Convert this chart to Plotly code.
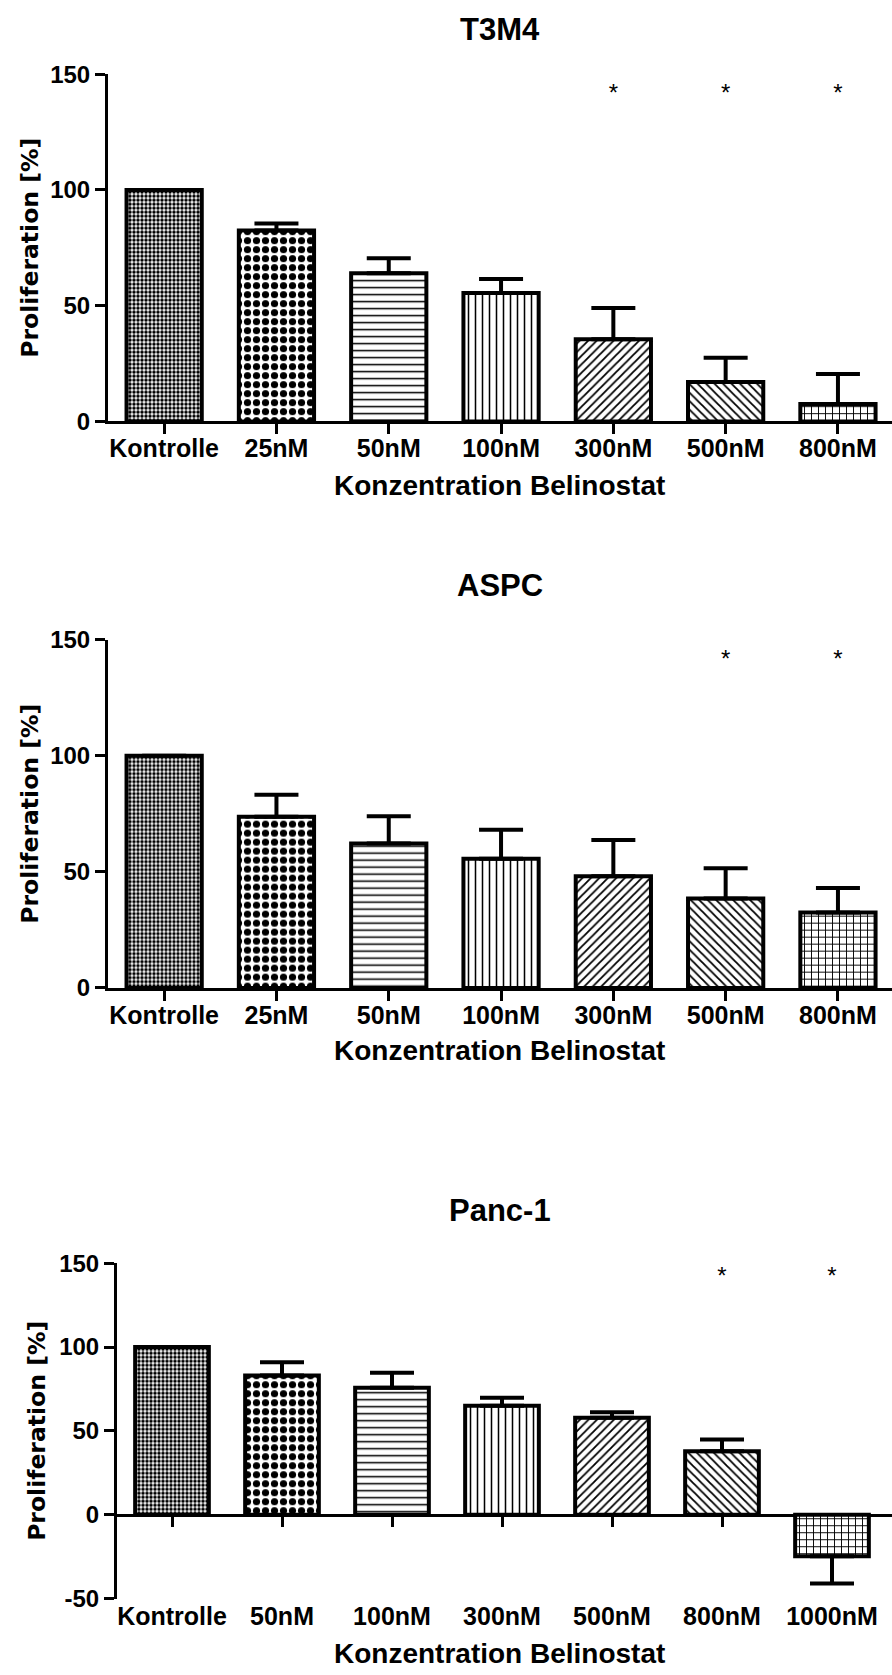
import plotly.graph_objects as go

# ---------------- data ----------------
t3m4_categories = ["Kontrolle", "25nM", "50nM", "100nM", "300nM", "500nM", "800nM"]
t3m4_values = [100, 82.5, 64, 55.5, 35.5, 17, 7.5]
t3m4_errors = [0, 3, 6.5, 6, 13.5, 10.5, 13]
t3m4_significant = [False, False, False, False, True, True, True]

aspc_categories = ["Kontrolle", "25nM", "50nM", "100nM", "300nM", "500nM", "800nM"]
aspc_values = [100, 73.7, 62.2, 55.7, 48.1, 38.5, 32.5]
aspc_errors = [0, 9.5, 11.8, 12.4, 15.6, 13.1, 10.5]
aspc_significant = [False, False, False, False, False, True, True]

panc1_categories = ["Kontrolle", "50nM", "100nM", "300nM", "500nM", "800nM", "1000nM"]
panc1_values = [100, 83, 75.7, 65, 57.8, 37.8, -24.8]
panc1_errors = [0, 8, 9, 4.8, 3.3, 7, 16.3]
panc1_significant = [False, False, False, False, False, True, True]

panel_titles = ["T3M4", "ASPC", "Panc-1"]
x_title = "Konzentration Belinostat"
y_title = "Proliferation [%]"
y_ticks_positive = [0, 50, 100, 150]
y_ticks_panc1 = [-50, 0, 50, 100, 150]
star_level = 141

# ---------------- geometry / styling ----------------
W, H = 892, 1675
ARIAL = "Liberation Sans"
# vertical mapping from target picture pixels to page pixels (calibrated on earlier renders)
SY, OY = 0.983, 13.9


def ly(y):
    return (y - OY) / SY


def px(x):
    return min(1.0, x / W)


def py(y):
    return max(0.0, min(1.0, 1 - ly(y) / H))


patterns = [
    dict(shape=".", size=4, solidity=0.6),
    dict(shape=".", size=9, solidity=0.5),
    dict(shape="-", size=7, solidity=0.22),
    dict(shape="|", size=7, solidity=0.22),
    dict(shape="/", size=6, solidity=0.3),
    dict(shape="\\", size=6, solidity=0.3),
    dict(shape="+", size=7, solidity=0.25),
]

panels = [
    dict(cats=t3m4_categories, vals=t3m4_values, errs=t3m4_errors, sig=t3m4_significant,
         yrange=[0, 150], yticks=y_ticks_positive, x_axis=108, step=112.3, ypx=(74, 421),
         title_y=29, xtitle_y=485, ytitle_x=30),
    dict(cats=aspc_categories, vals=aspc_values, errs=aspc_errors, sig=aspc_significant,
         yrange=[0, 150], yticks=y_ticks_positive, x_axis=108, step=112.3, ypx=(639, 987),
         title_y=585, xtitle_y=1049, ytitle_x=30),
    dict(cats=panc1_categories, vals=panc1_values, errs=panc1_errors, sig=panc1_significant,
         yrange=[-50, 150], yticks=y_ticks_panc1, x_axis=117, step=110.0, ypx=(1262, 1597),
         title_y=1209, xtitle_y=1652, ytitle_x=37),
]

fig = go.Figure()
annotations = []
layout = {}

for k, p in enumerate(panels):
    xm = 2 * k + 1
    xl = 2 * k + 2
    yi = k + 1
    xm_ref = "x" if xm == 1 else f"x{xm}"
    xl_ref = f"x{xl}"
    y_ref = "y" if yi == 1 else f"y{yi}"
    xm_key = "xaxis" if xm == 1 else f"xaxis{xm}"
    xl_key = f"xaxis{xl}"
    y_key = "yaxis" if yi == 1 else f"yaxis{yi}"

    xdom = [px(p["x_axis"]), 1.0]
    xr = [-0.5, -0.5 + (W - p["x_axis"]) / p["step"]]
    ydom = [py(p["ypx"][1]), py(p["ypx"][0])]
    ymin, ymax = p["yrange"]
    zero_pos = ydom[0] + (0 - ymin) / (ymax - ymin) * (ydom[1] - ydom[0])
    idx = list(range(len(p["cats"])))

    for i in idx:
        v = p["vals"][i]
        e = p["errs"][i]
        fig.add_trace(go.Bar(
            x=[i], y=[v], width=0.67,
            marker=dict(color="white", line=dict(color="black", width=4),
                        pattern=dict(fgcolor="black", bgcolor="white", fillmode="replace",
                                     **patterns[i])),
            error_y=dict(type="data", symmetric=False,
                         array=[e if v >= 0 else 0], arrayminus=[0 if v >= 0 else e],
                         color="black", thickness=4, width=22),
            xaxis=xm_ref, yaxis=y_ref, showlegend=False, hoverinfo="skip",
        ))

    # invisible carrier so that the category-label axis gets drawn
    fig.add_trace(go.Scatter(x=idx, y=p["vals"], mode="markers", marker=dict(opacity=0),
                             xaxis=xl_ref, yaxis=y_ref, showlegend=False, hoverinfo="skip"))

    sx = [i for i in idx if p["sig"][i]]
    fig.add_trace(go.Scatter(
        x=sx, y=[star_level] * len(sx), mode="text", text=["*"] * len(sx),
        textfont=dict(family=ARIAL, size=24, color="black"), textposition="middle center",
        xaxis=xm_ref, yaxis=y_ref, showlegend=False, hoverinfo="skip", cliponaxis=False,
    ))

    main_x = dict(domain=xdom, range=xr, tickmode="array", tickvals=idx,
                  showticklabels=False, ticks="outside", ticklen=10, tickwidth=3, tickcolor="black",
                  showline=True, linewidth=3, linecolor="black", showgrid=False, zeroline=False,
                  fixedrange=True)
    if ymin < 0:
        main_x.update(anchor="free", position=zero_pos, layer="below traces")
    else:
        main_x.update(anchor=y_ref)
    layout[xm_key] = main_x

    layout[xl_key] = dict(overlaying=xm_ref, anchor=y_ref, side="bottom",
                          range=xr, tickmode="array", tickvals=idx,
                          ticktext=p["cats"], ticks="", showline=False, showgrid=False,
                          zeroline=False, ticklabelstandoff=(10 if ymin >= 0 else 0),
                          tickfont=dict(family=ARIAL, size=25, color="black", weight="bold"))

    layout[y_key] = dict(domain=ydom, anchor=xm_ref, range=[ymin, ymax], tickmode="array",
                         tickvals=p["yticks"], ticktext=[str(t) for t in p["yticks"]],
                         ticks="outside", ticklen=10, tickwidth=3,
                         tickcolor="black", showline=True, linewidth=3, linecolor="black",
                         showgrid=False, zeroline=False,
                         tickfont=dict(family=ARIAL, size=24, color="black", weight="bold"))

    annotations.append(dict(text=panel_titles[k], xref="paper", yref="paper",
                            x=px(500), y=py(p["title_y"]), xanchor="center", yanchor="middle",
                            showarrow=False,
                            font=dict(family=ARIAL, size=31, color="black", weight="bold")))
    annotations.append(dict(text=x_title, xref="paper", yref="paper",
                            x=px(500), y=py(p["xtitle_y"]), xanchor="center", yanchor="middle",
                            showarrow=False,
                            font=dict(family=ARIAL, size=28, color="black", weight="bold")))
    annotations.append(dict(text=y_title, xref="paper", yref="paper", textangle=-90,
                            x=px(p["ytitle_x"]), y=py((p["ypx"][0] + p["ypx"][1]) / 2),
                            xanchor="center", yanchor="middle", showarrow=False,
                            font=dict(family="DejaVu Sans", size=23.5, color="black", weight="bold")))

fig.update_layout(width=W, height=H, margin=dict(l=0, r=0, t=0, b=0),
                  paper_bgcolor="white", plot_bgcolor="white", barmode="overlay",
                  annotations=annotations, **layout)

# pin the figure to the top-left corner of the page (no default body margin)
pin_script = (
    "document.body.style.margin='0';"
    "var d=document.getElementById('{plot_id}');"
    "d.style.position='absolute';d.style.left='0px';d.style.top='0px';"
)
fig.write_html("out.html", config={"displayModeBar": False}, post_script=pin_script)
